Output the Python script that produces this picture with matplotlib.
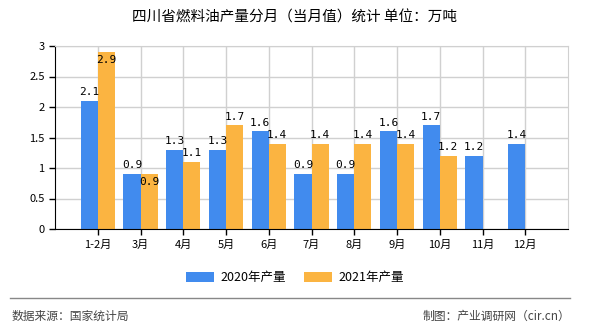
import numpy as np
import matplotlib.pyplot as plt

plt.rcParams['font.family'] = ['Noto Sans CJK SC', 'DejaVu Sans']

months = ['1-2月', '3月', '4月', '5月', '6月', '7月', '8月', '9月', '10月', '11月', '12月']
prod_2020 = [2.1, 0.9, 1.3, 1.3, 1.6, 0.9, 0.9, 1.6, 1.7, 1.2, 1.4]
prod_2021 = [2.9, 0.9, 1.1, 1.7, 1.4, 1.4, 1.4, 1.4, 1.2, None, None]
# 2021 labels drawn inside the bar (would clash otherwise)
inside_2021 = ['1-2月', '3月']

blue = '#418bee'
orange = '#fbb441'

fig = plt.figure(figsize=(5.9, 3.3), dpi=100)
ax = fig.add_axes([55 / 590, 1 - 229 / 330, 513 / 590, 183 / 330])

x = np.arange(len(months))
w = 0.4
ax.bar(x - w / 2, prod_2020, w, color=blue, label='2020年产量', zorder=2)
x21 = [i for i, v in enumerate(prod_2021) if v is not None]
v21 = [v for v in prod_2021 if v is not None]
ax.bar(np.array(x21) + w / 2, v21, w, color=orange, label='2021年产量', zorder=2)

lbl = dict(fontsize=8, family='DejaVu Sans Mono', ha='center', zorder=3)
for i, v in enumerate(prod_2020):
    ax.text(i - w / 2, v + 0.06, f'{v:.1f}', va='bottom', **lbl)
for i, v in zip(x21, v21):
    if months[i] in inside_2021:
        ax.text(i + w / 2, v - 0.05, f'{v:.1f}', va='top', **lbl)
    else:
        ax.text(i + w / 2, v + 0.06, f'{v:.1f}', va='bottom', **lbl)

ax.set_xlim(-1, 11)
ax.set_ylim(0, 3)
ax.set_yticks(np.arange(0, 3.01, 0.5))
ax.set_yticklabels(['0', '0.5', '1', '1.5', '2', '2.5', '3'])
ax.set_xticks(x)
ax.set_xticklabels(months)
ax.tick_params(axis='both', labelsize=8, length=4, width=1, color='black')
ax.grid(True, color='#d0d0d0', linewidth=1, zorder=0)
for s in ['top', 'right']:
    ax.spines[s].set_color('#d0d0d0')
ax.spines['left'].set_color('black')
ax.spines['bottom'].set_color('black')

fig.text(0.5, 1 - 18 / 330, '四川省燃料油产量分月（当月值）统计 单位：万吨', ha='center', va='center', fontsize=10.5)
fig.legend(loc='center', bbox_to_anchor=(0.5, 1 - 278 / 330), ncol=2, frameon=False, fontsize=9,
           handlelength=2.2, handleheight=0.8, handletextpad=0.5, columnspacing=1.5)
fig.add_artist(plt.Line2D([10 / 590, 570 / 590], [1 - 298 / 330] * 2, color='#888888', linewidth=1))
fig.text(12 / 590, 1 - 316 / 330, '数据来源：国家统计局', ha='left', va='center', fontsize=8.5, color='#444444')
fig.text(570 / 590, 1 - 316 / 330, '制图：产业调研网（cir.cn）', ha='right', va='center', fontsize=8.5, color='#444444')

fig.savefig('out.png', dpi=100)
